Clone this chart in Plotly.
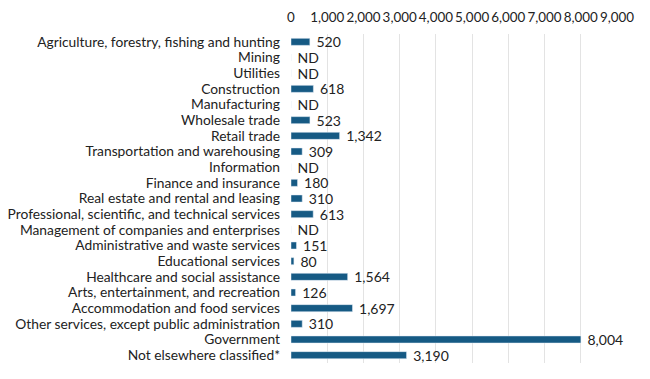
import plotly.graph_objects as go

categories = [
    "Agriculture, forestry, fishing and hunting",
    "Mining",
    "Utilities",
    "Construction",
    "Manufacturing",
    "Wholesale trade",
    "Retail trade",
    "Transportation and warehousing",
    "Information",
    "Finance and insurance",
    "Real estate and rental and leasing",
    "Professional, scientific, and technical services",
    "Management of companies and enterprises",
    "Administrative and waste services",
    "Educational services",
    "Healthcare and social assistance",
    "Arts, entertainment, and recreation",
    "Accommodation and food services",
    "Other services, except public administration",
    "Government",
    "Not elsewhere classified*",
]
values = [520, None, None, 618, None, 523, 1342, 309, None, 180, 310, 613,
          None, 151, 80, 1564, 126, 1697, 310, 8004, 3190]
tick_vals = [0, 1000, 2000, 3000, 4000, 5000, 6000, 7000, 8000, 9000]

xs = [v if v is not None else 0 for v in values]
texts = [" " + (f"{v:,}" if v is not None else "ND") for v in values]

fig = go.Figure(go.Bar(
    y=categories, x=xs, orientation="h",
    marker_color="#165a84",
    text=texts, textposition="outside", cliponaxis=False,
    constraintext="none",
    textfont=dict(family="Lato", size=14, color="#222"),
))
fig.update_layout(
    width=650, height=379,
    margin=dict(l=283, r=41, t=26, b=24),
    paper_bgcolor="white", plot_bgcolor="white",
    bargap=0.55, showlegend=False,
    font=dict(family="Lato", size=13.8, color="#222"),
    xaxis=dict(side="top", range=[0, 9000], tickvals=tick_vals,
               tickformat=",d", showgrid=True, gridcolor="#e3e3e3",
               zeroline=False, tickfont=dict(size=13.4), ticks="",
               tickangle=0, automargin=False, ticklabelstandoff=8),
    yaxis=dict(autorange="reversed", ticklabelstandoff=10, ticks="",
               tickmode="array", tickvals=categories,
               tickfont=dict(size=13.8), automargin=False),
)
fig.write_html("out.html")
